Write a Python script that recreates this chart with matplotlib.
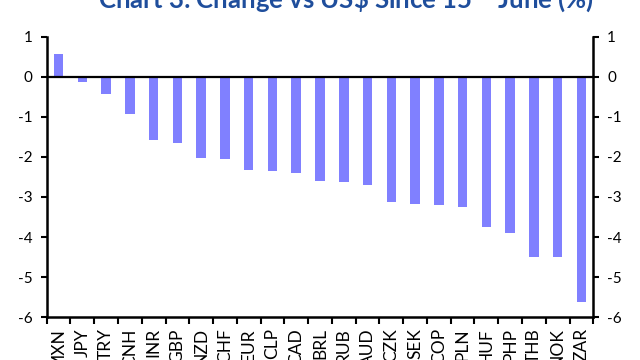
import numpy as np
import matplotlib

matplotlib.use('Agg')
import matplotlib.pyplot as plt

# currencies and % change vs US$ since 15th June
currencies = ['MXN', 'JPY', 'TRY', 'CNH', 'INR', 'GBP', 'NZD', 'CHF', 'EUR', 'CLP',
              'CAD', 'BRL', 'RUB', 'AUD', 'CZK', 'SEK', 'COP', 'PLN', 'HUF', 'PHP',
              'THB', 'NOK', 'ZAR']
changes = [0.58, -0.14, -0.43, -0.94, -1.59, -1.65, -2.03, -2.04, -2.32, -2.34,
           -2.40, -2.60, -2.63, -2.70, -3.12, -3.18, -3.20, -3.25, -3.74, -3.89,
           -4.49, -4.51, -5.63]
yticks = [1, 0, -1, -2, -3, -4, -5, -6]

plt.rcParams['font.family'] = ['Lato', 'DejaVu Sans']

fig = plt.figure(figsize=(6.4, 3.6), dpi=100)
ax = fig.add_axes((0.073, 0.119, 0.854, 0.779))

x = np.arange(len(currencies))
ax.bar(x, changes, width=0.4, color='#8080ff', zorder=2)
ax.axhline(0, color='black', lw=1.6, zorder=3)

ax.set_xlim(-0.5, len(currencies) - 0.5)
ax.set_ylim(-6, 1)
ax.set_yticks(yticks)
ax.set_yticklabels([str(v) for v in yticks])

# category boundaries carry the ticks, labels sit at the bar centres
ax.set_xticks(np.arange(len(currencies) + 1) - 0.5)
ax.set_xticklabels([])
ax.set_xticks(x, minor=True)
ax.set_xticklabels(currencies, minor=True, rotation=90, fontsize=12.5)
ax.tick_params(axis='x', which='minor', length=0, pad=8)
ax.tick_params(axis='x', which='major', direction='out', length=5, width=1.5)

ax.tick_params(axis='y', which='both', direction='out', length=4, width=1.5,
               labelsize=11, left=True, right=True, labelleft=True, labelright=True, pad=6)

ax.spines['top'].set_visible(False)
for s in ['left', 'right', 'bottom']:
    ax.spines[s].set_linewidth(1.8)

fig.text(0.54, 1 - 8 / 360, 'Chart 3: Change vs US\\$ Since 15$^{\\mathrm{th}}$ June (%)',
         ha='center', va='baseline', fontsize=18.5, fontweight='bold', color='#1f4e9c')

plt.savefig('out.png', dpi=100)
